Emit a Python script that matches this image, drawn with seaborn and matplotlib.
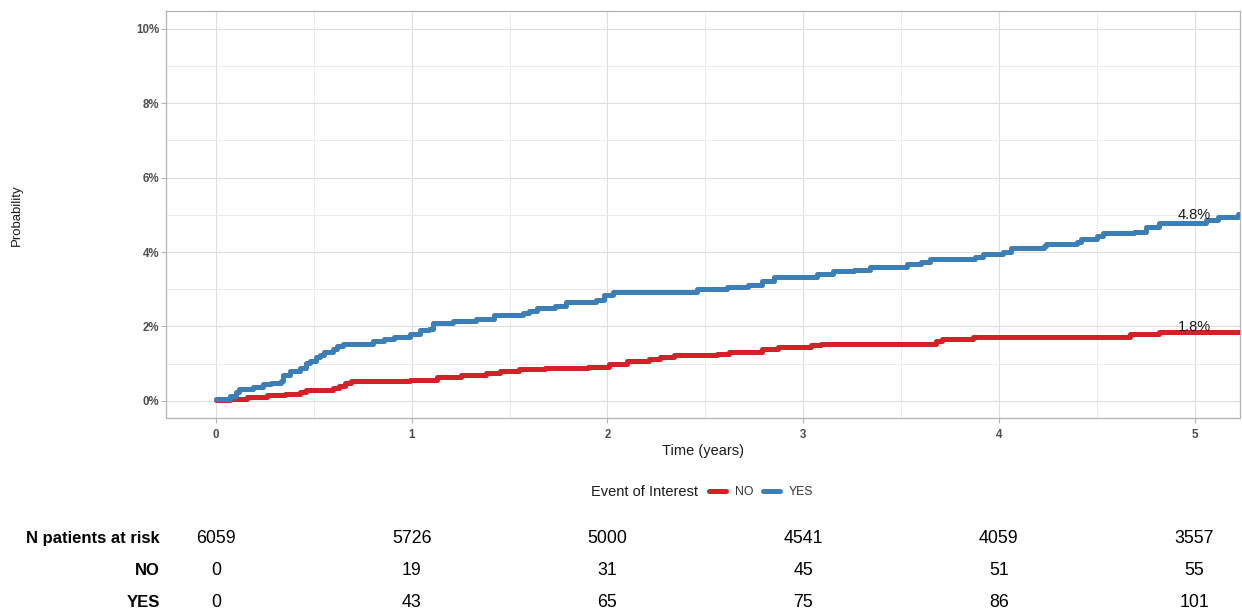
import numpy as np
import pandas as pd
import matplotlib
matplotlib.use("Agg")
import matplotlib.pyplot as plt
import matplotlib.transforms as mtransforms
from matplotlib.lines import Line2D
from matplotlib.ticker import FuncFormatter, MultipleLocator
import seaborn as sns

# ---------------- data ----------------
yes_time = [0.00, 0.07, 0.10, 0.12, 0.19, 0.24, 0.28, 0.33, 0.34, 0.38, 0.43, 0.46,
            0.48, 0.51, 0.53, 0.55, 0.60, 0.62, 0.65, 0.80, 0.86, 0.91, 0.99, 1.04,
            1.09, 1.11, 1.21, 1.33, 1.42, 1.57, 1.60, 1.64, 1.73, 1.79, 1.94, 1.98,
            2.03, 2.32, 2.46, 2.61, 2.72, 2.79, 2.85, 3.07, 3.15, 3.26, 3.34, 3.53,
            3.60, 3.65, 3.88, 3.92, 4.02, 4.06, 4.23, 4.24, 4.40, 4.42, 4.50, 4.53,
            4.69, 4.75, 4.82, 5.06, 5.12, 5.22, 5.25]
yes_prob = [0.05, 0.14, 0.23, 0.32, 0.36, 0.45, 0.49, 0.54, 0.70, 0.79, 0.89, 1.01,
            1.08, 1.17, 1.24, 1.31, 1.40, 1.47, 1.54, 1.60, 1.66, 1.72, 1.81, 1.90,
            1.94, 2.10, 2.15, 2.21, 2.30, 2.35, 2.42, 2.49, 2.56, 2.65, 2.70, 2.85,
            2.92, 2.94, 3.00, 3.05, 3.12, 3.21, 3.32, 3.41, 3.48, 3.53, 3.59, 3.68,
            3.74, 3.81, 3.86, 3.95, 3.99, 4.10, 4.15, 4.22, 4.26, 4.35, 4.42, 4.51,
            4.55, 4.67, 4.79, 4.85, 4.94, 5.02, 5.02]

no_time = [0.00, 0.07, 0.16, 0.26, 0.35, 0.43, 0.46, 0.60, 0.63, 0.66, 0.69, 0.99,
           1.13, 1.25, 1.38, 1.45, 1.55, 1.68, 1.90, 2.01, 2.10, 2.21, 2.27, 2.34,
           2.56, 2.62, 2.79, 2.87, 3.04, 3.09, 3.58, 3.68, 3.71, 3.87, 4.24, 4.67,
           4.82, 5.25]
no_prob = [0.02, 0.05, 0.11, 0.15, 0.19, 0.23, 0.29, 0.34, 0.41, 0.47, 0.54, 0.56,
           0.63, 0.70, 0.76, 0.81, 0.86, 0.89, 0.92, 1.00, 1.06, 1.13, 1.19, 1.22,
           1.27, 1.31, 1.40, 1.45, 1.49, 1.52, 1.54, 1.60, 1.66, 1.71, 1.73, 1.79,
           1.85, 1.87]

groups = ["NO", "YES"]
end_label_x = 5.0
end_labels = ["1.8%", "4.8%"]
end_label_y = [1.8, 4.8]

risk_times = [0, 1, 2, 3, 4, 5]
risk_row_labels = ["N patients at risk", "NO", "YES"]
n_at_risk = [6059, 5726, 5000, 4541, 4059, 3557]
events_no = [0, 19, 31, 45, 51, 55]
events_yes = [0, 43, 65, 75, 86, 101]

colors = {"NO": "#D42027", "YES": "#3C7FB6"}

df = pd.concat([
    pd.DataFrame({"time": no_time, "prob": np.array(no_prob) / 100, "group": "NO"}),
    pd.DataFrame({"time": yes_time, "prob": np.array(yes_prob) / 100, "group": "YES"}),
], ignore_index=True)

# ---------------- figure ----------------
sns.set_theme(style="white")
plt.rcParams["font.family"] = ["Liberation Sans", "DejaVu Sans"]

W, H = 1242, 615
fig = plt.figure(figsize=(W / 100, H / 100), dpi=100)

def fx(px):
    return px / W

def fy(py):
    return 1 - py / H

ax = fig.add_axes([fx(166), fy(418), fx(1240) - fx(166), fy(11) - fy(418)])

sns.lineplot(data=df, x="time", y="prob", hue="group", hue_order=groups,
             palette=colors, estimator=None, sort=True, drawstyle="steps-post",
             linewidth=3.6, legend=False, ax=ax, zorder=3)

ax.set_xlim(-0.2555, 5.232)
ax.set_ylim(-0.0046, 0.1048)
ax.xaxis.set_major_locator(MultipleLocator(1))
ax.xaxis.set_minor_locator(MultipleLocator(0.5))
ax.yaxis.set_major_locator(MultipleLocator(0.02))
ax.yaxis.set_minor_locator(MultipleLocator(0.01))
ax.yaxis.set_major_formatter(FuncFormatter(lambda v, p: f"{v*100:.0f}%"))
ax.xaxis.set_major_formatter(FuncFormatter(lambda v, p: f"{v:.0f}"))

ax.grid(True, which="major", color="#DEDEDE", linewidth=0.8)
ax.grid(True, which="minor", color="#E8E8E8", linewidth=0.6)
ax.set_axisbelow(True)
for s in ax.spines.values():
    s.set_color("#B3B3B3")
    s.set_linewidth(0.9)
ax.tick_params(axis="y", which="major", length=3.6, width=0.8, color="#B3B3B3",
               labelsize=8.3, labelcolor="#4D4D4D", pad=1.5, left=True)
ax.tick_params(axis="x", which="major", length=3.6, width=0.8, color="#B3B3B3",
               labelsize=8.3, labelcolor="#4D4D4D", pad=4.5, bottom=True)
ax.tick_params(axis="both", which="minor", length=0)
for lab in ax.get_xticklabels() + ax.get_yticklabels():
    lab.set_fontweight("bold")

ax.set_xlabel("Time (years)", fontsize=10.5, color="#1A1A1A", labelpad=2)
ax.set_ylabel("")
fig.text(fx(17), fy(215), "Probability", rotation=90, ha="center", va="center",
         fontsize=9.5, color="#1A1A1A")

for lab, yv in zip(end_labels, end_label_y):
    ax.text(end_label_x, yv / 100, lab, ha="center", va="bottom", fontsize=10.5,
            color="#1A1A1A", zorder=4)

# legend
fig.text(fx(591), fy(492), "Event of Interest", ha="left", va="center",
         fontsize=10.5, color="#1A1A1A")
handles = [Line2D([], [], color=colors[g], linewidth=3.6) for g in groups]
fig.legend(handles, groups, loc="center left", bbox_to_anchor=(fx(703), fy(492)),
           ncol=2, frameon=False, fontsize=8.8, handlelength=1.35, handletextpad=0.75,
           columnspacing=0.8, borderpad=0, labelcolor="#333333")

# risk table
tab = fig.add_axes([fx(166), 0, fx(1240) - fx(166), fy(521)])
tab.set_xlim(ax.get_xlim())
tab.set_ylim(2.44, -0.5)
tab.axis("off")
trans = mtransforms.blended_transform_factory(fig.transFigure, tab.transData)
rows = [n_at_risk, events_no, events_yes]
for r, (lab, vals) in enumerate(zip(risk_row_labels, rows)):
    tab.text(fx(160), r, lab, transform=trans, ha="right", va="center_baseline",
             fontsize=12, fontweight="bold", color="black")
    for t, v in zip(risk_times, vals):
        tab.text(t, r, str(v), ha="center", va="center_baseline", fontsize=12.8,
                 color="black")

fig.savefig("out.png", dpi=100, facecolor="white")
